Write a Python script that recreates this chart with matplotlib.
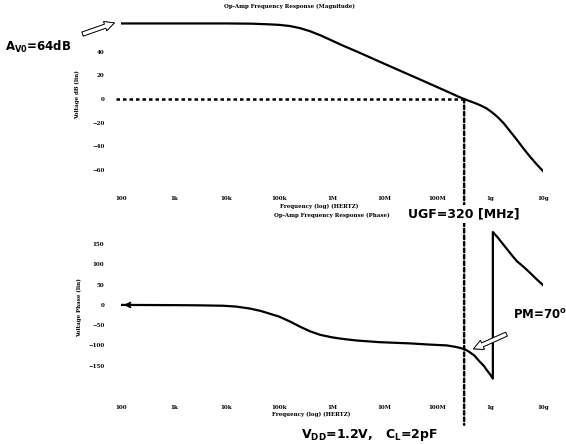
import matplotlib
matplotlib.use('Agg')
import matplotlib.pyplot as plt
from matplotlib.patches import ConnectionPatch

plt.rcParams['mathtext.default'] = 'bf'

# Magnitude response
mag_freq = [1e2, 1e3, 1e4, 3e4, 6e4, 1e5, 1.6e5, 2.5e5, 3.8e5, 6e5, 1e6, 1.6e6,
            3e6, 1e7, 4.7e7, 1e8, 2e8, 2.5e8, 3.2e8, 4e8, 5e8, 6.5e8, 8.5e8,
            1.1e9, 1.4e9, 1.8e9, 2.4e9, 3.2e9, 4.2e9, 5.6e9, 7.5e9, 1e10]
mag_db = [64, 64, 64, 63.8, 63.3, 62.8, 61.8, 60, 57.5, 54, 49.5, 45.3,
          40.1, 29.7, 16.5, 10, 4.0, 2.0, 0, -1.6, -3.2, -5.3, -7.9,
          -11.5, -15.5, -20.5, -27.5, -34.5, -41.5, -48.5, -55, -61]

# Phase response (wraps at -180 -> +180)
ph_freq = [1e2, 1e3, 3e3, 8.5e3, 1.5e4, 2.8e4, 4.5e4, 6e4, 1e5, 1.6e5, 2.5e5,
           3.8e5, 6e5, 1e6, 1.6e6, 3e6, 8e6, 3e7, 7.2e7, 1.5e8, 2.3e8, 3.2e8,
           3.8e8, 5e8, 6.3e8, 7.5e8, 8.5e8, 1e9, 1.12e9, 1.12e9, 1.4e9, 1.7e9,
           2.1e9, 2.6e9, 3.2e9, 4.2e9, 5.6e9, 7.5e9, 1e10]
ph_deg = [0, -0.5, -1, -2, -4, -9, -15, -20, -29, -41, -54,
          -65, -74, -80, -84, -88, -92, -95, -98, -100, -104, -109,
          -114, -125, -140, -150, -160, -172, -182, 180, 166, 152,
          137, 122, 108, 95, 80, 64, 49]

ugf = 3.2e8
tick_pos = [1e2, 1e3, 1e4, 1e5, 1e6, 1e7, 1e8, 1e9, 1e10]
tick_lab = ['100', '1k', '10k', '100k', '1M', '10M', '100M', '1g', '10g']
mag_ticks = [40, 20, 0, -20, -40, -60]
ph_ticks = [150, 100, 50, 0, -50, -100, -150]

W, H = 566, 444
fig = plt.figure(figsize=(W / 100, H / 100), dpi=100)

small = dict(family='DejaVu Serif', fontsize=4, fontweight='bold')


def px(x, y):
    return (x / W, 1 - y / H)


def setup(ax, yticks):
    ax.set_xscale('log')
    ax.set_xlim(1e2, 1e10)
    ax.set_xticks(tick_pos)
    ax.set_xticklabels(tick_lab)
    ax.minorticks_off()
    ax.set_yticks(yticks)
    ax.tick_params(length=0, labelsize=4)
    for lab in ax.get_xticklabels() + ax.get_yticklabels():
        lab.set_family('DejaVu Serif')
        lab.set_fontweight('bold')
    for s in ax.spines.values():
        s.set_visible(False)
    ax.patch.set_alpha(0)


# top: magnitude
ax1 = fig.add_axes([121 / W, 1 - 190 / H, 422 / W, 176 / H])
setup(ax1, mag_ticks)
ax1.set_ylim(-77, 72)
ax1.tick_params(axis='x', pad=4)
ax1.tick_params(axis='y', pad=12)
ax1.plot(mag_freq, mag_db, color='black', lw=1.6)
ax1.plot([mag_freq[0] * 0.8, ugf], [0, 0], color='black', lw=1.8,
         linestyle=(0, (1.4, 1.2)), clip_on=False)
ax1.set_title('Op-Amp Frequency Response (Magnitude)', pad=4, x=0.4, **small)
ax1.set_xlabel('Frequency (log) (HERTZ)', labelpad=2, x=0.47, **small)
ax1.set_ylabel('Voltage dB (lin)', **small)
ax1.yaxis.set_label_coords(-0.097, 0.54)

# bottom: phase
ax2 = fig.add_axes([121 / W, 1 - 394 / H, 422 / W, 166 / H])
setup(ax2, ph_ticks)
ax2.set_ylim(-220, 190)
ax2.tick_params(axis='x', pad=8)
ax2.tick_params(axis='y', pad=12)
ax2.plot(ph_freq, ph_deg, color='black', lw=1.6)
ax2.annotate('', xy=(ph_freq[0], ph_deg[0]), xytext=(ph_freq[1], ph_deg[1]),
             arrowprops=dict(arrowstyle='->', lw=1.4, color='black',
                             mutation_scale=8))
ax2.set_title('Op-Amp Frequency Response (Phase)', pad=8, **small)
ax2.set_xlabel('Frequency (log) (HERTZ)', labelpad=1, x=0.45, **small)
ax2.set_ylabel('Voltage Phase (lin)', **small)
ax2.yaxis.set_label_coords(-0.092, 0.52)

# UGF marker line through both plots
con = ConnectionPatch(xyA=(ugf, 0), coordsA=ax1.transData,
                      xyB=(ugf, -296), coordsB=ax2.transData,
                      color='black', lw=1.8, linestyle=(0, (1.4, 1.2)))
fig.add_artist(con)

# annotations
hollow = dict(arrowstyle='simple,head_width=0.7,head_length=0.7,tail_width=0.3',
              fc='white', ec='black', lw=0.6)
fig.text(*px(5, 47), r'A$_{V0}$=64dB', fontsize=8.5, fontweight='bold',
         va='center', ha='left')
fig.add_artist(plt.annotate('', xy=px(117, 22), xytext=px(80, 35),
                            xycoords='figure fraction',
                            textcoords='figure fraction', arrowprops=hollow))
fig.text(*px(464, 214), 'UGF=320 [MHz]', fontsize=9, fontweight='bold',
         va='center', ha='center', zorder=5,
         bbox=dict(fc='white', ec='none', pad=1.5))
fig.text(*px(513, 315), r'PM=70$^{o}$', fontsize=8.5, fontweight='bold',
         va='center', ha='left')
fig.add_artist(plt.annotate('', xy=px(471, 350), xytext=px(509, 333),
                            xycoords='figure fraction',
                            textcoords='figure fraction', arrowprops=hollow))
fig.text(*px(370, 435), r'V$_{DD}$=1.2V,   C$_{L}$=2pF', fontsize=9,
         fontweight='bold', va='center', ha='center')

fig.savefig('out.png', dpi=100)
